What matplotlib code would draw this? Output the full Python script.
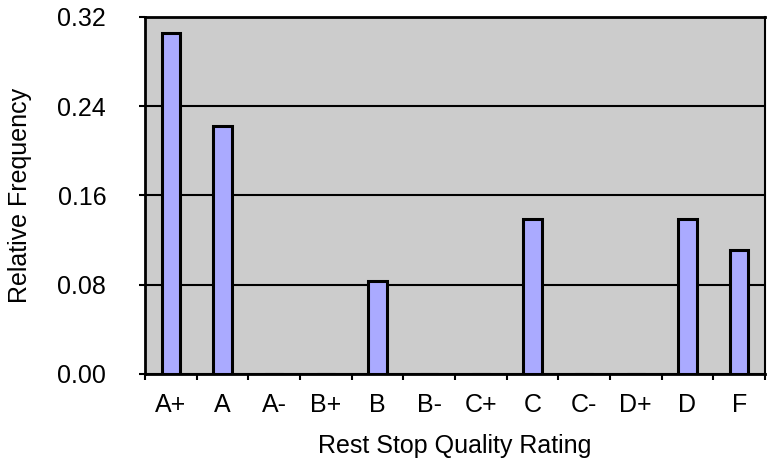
import numpy as np
import matplotlib.pyplot as plt
from matplotlib.ticker import FixedLocator

ratings = ["A+", "A", "A-", "B+", "B", "B-", "C+", "C", "C-", "D+", "D", "F"]
freq = [11/36, 8/36, 0, 0, 3/36, 0, 0, 5/36, 0, 0, 5/36, 4/36]
y_ticks = [0.00, 0.08, 0.16, 0.24, 0.32]

plt.rcParams['font.family'] = ['Liberation Sans', 'DejaVu Sans']

fig = plt.figure(figsize=(7.73, 4.69), dpi=100)
ax = fig.add_axes([0.1876, 0.2026, 0.802, 0.7612])
ax.set_facecolor("#cccccc")

x = np.arange(len(ratings))
ax.bar(x, freq, width=0.36, color="#aaaaff", edgecolor="black", linewidth=2.2, zorder=3)

ax.set_xlim(-0.5, len(ratings) - 0.5)
ax.set_ylim(0, 0.32)
ax.set_yticks(y_ticks)
ax.set_yticklabels([f"{v:.2f}" for v in y_ticks], fontsize=18)
ax.yaxis.grid(True, color="black", linewidth=1.5, zorder=1)

ax.set_xticks(x)
ax.set_xticklabels(ratings, fontsize=18)
ax.xaxis.set_minor_locator(FixedLocator(np.arange(len(ratings) + 1) - 0.5))
ax.tick_params(axis="x", which="major", length=0, pad=14)
ax.tick_params(axis="x", which="minor", length=4, width=1.5, direction="out")
ax.tick_params(axis="y", length=4, width=1.5, direction="out", pad=24)

for side in ["left", "bottom", "top", "right"]:
    ax.spines[side].set_linewidth(2)
ax.spines["right"].set_linewidth(1.5)

ax.set_xlabel("Rest Stop Quality Rating", fontsize=18, labelpad=12)
ax.set_ylabel("Relative Frequency", fontsize=18, labelpad=18)

fig.savefig("out.png", dpi=100)
